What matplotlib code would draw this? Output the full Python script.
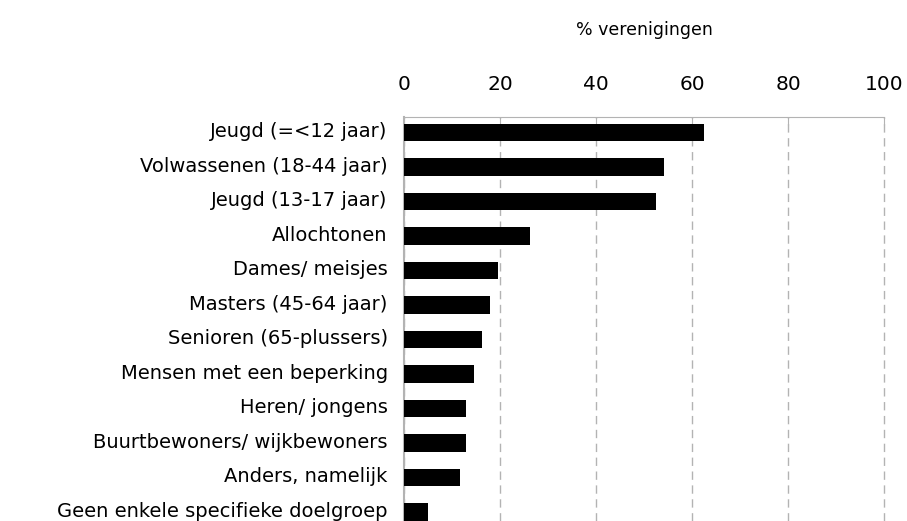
import matplotlib
matplotlib.use("Agg")
import matplotlib.pyplot as plt
import matplotlib.transforms as mtransforms
import numpy as np

categories = [
    "Jeugd (=<12 jaar)",
    "Volwassenen (18-44 jaar)",
    "Jeugd (13-17 jaar)",
    "Allochtonen",
    "Dames/ meisjes",
    "Masters (45-64 jaar)",
    "Senioren (65-plussers)",
    "Mensen met een beperking",
    "Heren/ jongens",
    "Buurtbewoners/ wijkbewoners",
    "Anders, namelijk",
    "Geen enkele specifieke doelgroep",
]
values = [62.4, 54.1, 52.4, 26.2, 19.5, 17.8, 16.2, 14.5, 12.8, 12.8, 11.6, 4.9]
xticks = [0, 20, 40, 60, 80, 100]
xlabel = "% verenigingen"

fig = plt.figure(figsize=(9.07, 5.21), dpi=100)
ax = fig.add_axes([0.4458, 0.0, 0.975 - 0.4458, 0.776])

y = np.arange(len(categories))
ax.barh(y, values, height=0.5, color="black", zorder=3)

ax.set_xlim(0, 100)
ax.set_ylim(11.26, -0.458)
ax.set_yticks(y)
ax.set_yticklabels(categories, fontsize=14)
ax.set_xticks(xticks)
ax.set_xticklabels([str(t) for t in xticks], fontsize=14.5)

ax.xaxis.tick_top()
ax.xaxis.set_label_position("top")
ax.set_xlabel(xlabel, fontsize=12.5, labelpad=29)

grey = "#b3b3b3"
ax.grid(axis="x", color=grey, linestyle=(0, (6, 4)), linewidth=1, zorder=0)
for gl in ax.get_xgridlines():
    gl.set_clip_on(False)
for side in ["right", "bottom"]:
    ax.spines[side].set_visible(False)
ax.spines["top"].set_color(grey)
ax.spines["left"].set_color(grey)
ax.spines["left"].set_linewidth(1.5)
ax.tick_params(axis="x", direction="in", length=6, color=grey, pad=16)
ax.tick_params(axis="y", length=0, pad=12)

# lift the category labels a little so the last one stays inside the figure
shift = mtransforms.ScaledTranslation(0, 2 / 72, fig.dpi_scale_trans)
for lbl in ax.get_yticklabels():
    lbl.set_transform(lbl.get_transform() + shift)

fig.savefig("out.png", dpi=100)
